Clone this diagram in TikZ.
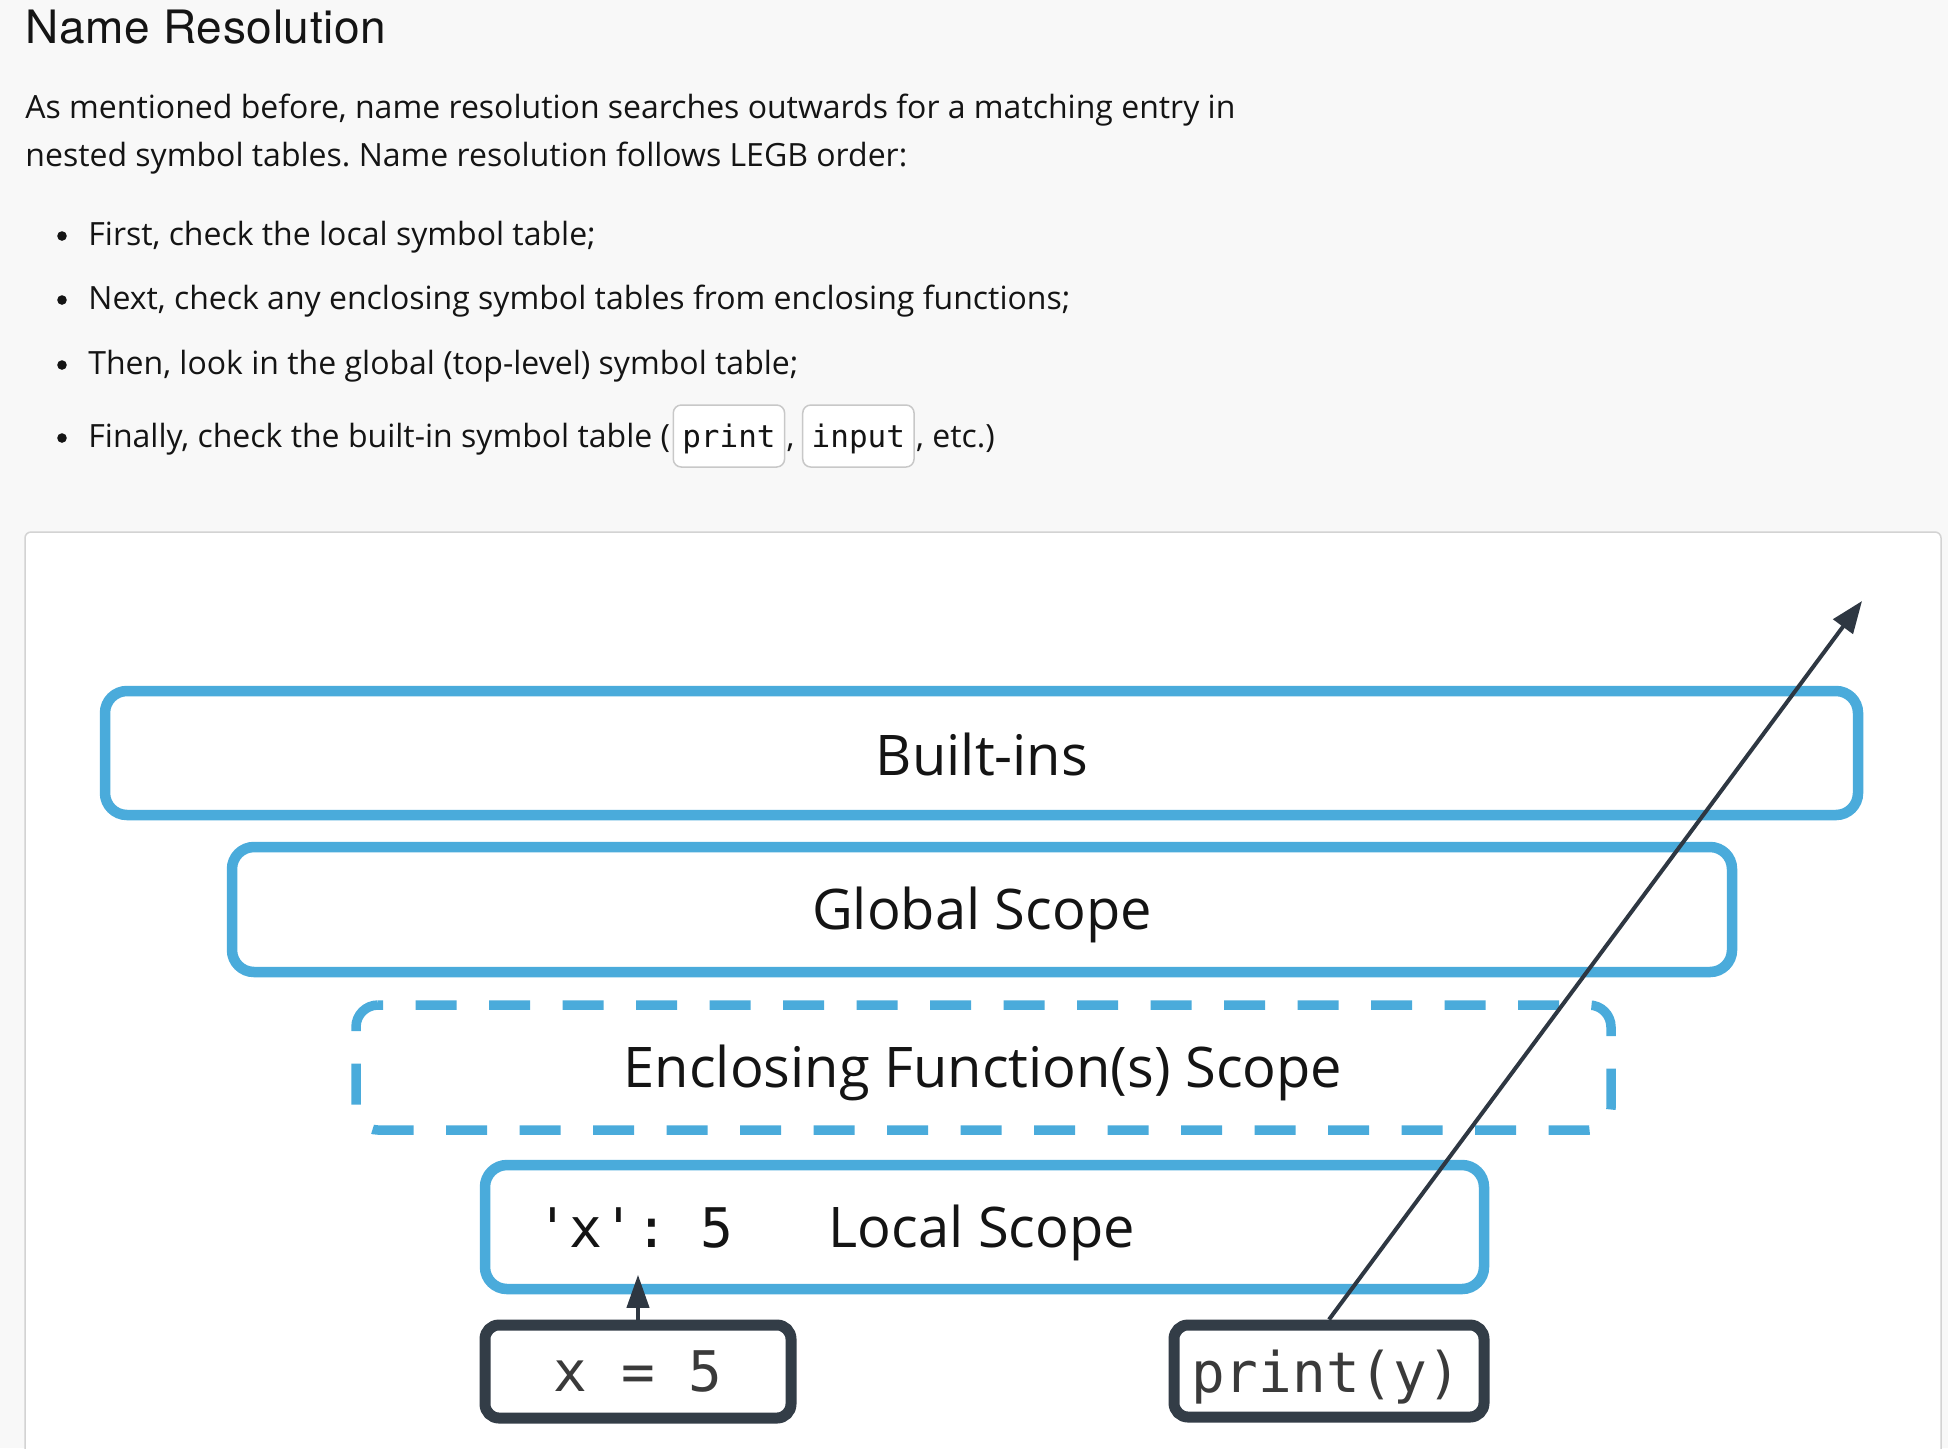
\documentclass[tikz,border=0pt]{standalone}
\usepackage{fontspec}
\setmainfont{Open Sans}
\newfontfamily\titlefont[LetterSpace=1.5]{TeX Gyre Heros}
\newfontfamily\codefont{DejaVu Sans Mono}
\usetikzlibrary{arrows.meta,calc}
\definecolor{pagebg}{HTML}{F8F8F8}
\definecolor{panelborder}{HTML}{D3D3D3}
\definecolor{scopeblue}{HTML}{4AABDB}
\definecolor{darkbox}{HTML}{333D47}
\definecolor{arrowdark}{HTML}{2E3742}
\definecolor{txt}{HTML}{141414}
\definecolor{graytxt}{HTML}{3A3A3A}
\definecolor{codeborder}{HTML}{C8C8C8}
\frenchspacing
\begin{document}
\begin{tikzpicture}[x=0.5pt,y=-0.5pt,
  scopebox/.style={draw=scopeblue,line width=5.25pt,rounded corners=11pt,inner sep=0pt},
  stmtbox/.style={draw=darkbox,line width=5.5pt,rounded corners=7pt,inner sep=0pt},
  lbl/.style={font=\fontsize{28}{34}\selectfont,text=txt,inner sep=0pt,anchor=base},
  monolbl/.style={font=\codefont\fontsize{28}{34}\selectfont,text=txt,inner sep=0pt},
  bodytext/.style={font=\fontsize{16}{19}\selectfont,text=txt,inner sep=0pt,anchor=base west},
  bulletdot/.style={circle,fill=txt,inner sep=0pt,minimum size=4.8pt},
  inlinecode/.style={draw=codeborder,fill=white,line width=0.75pt,rounded corners=4pt,
    font=\codefont\fontsize{15.5}{18}\selectfont,text=txt,inner xsep=4.5pt,inner ysep=0pt,
    minimum height=31pt,text height=13pt,text depth=2pt,anchor=west},
  arrowline/.style={draw=arrowdark,line width=2pt}
]
\useasboundingbox (0,0) rectangle (1948,1448);
\fill[pagebg] (0,0) rectangle (1948,1448);
\draw[fill=white,draw=panelborder,line width=0.75pt,rounded corners=3pt] (25,532) rectangle (1941,1480);

% header
\node[anchor=base west,inner sep=0pt,text=txt,font=\titlefont\fontsize{23}{28}\selectfont] (title) at (25,43) {Name Resolution};
\node[bodytext] (p1) at (25,118) {As mentioned before, name resolution searches outwards for a matching entry in};
\node[bodytext] (p2) at (25,166) {nested symbol tables. Name resolution follows LEGB order:};

\node[bulletdot] (d1) at (62,236) {};
\node[bulletdot] (d2) at (62,300) {};
\node[bulletdot] (d3) at (62,365) {};
\node[bulletdot] (d4) at (62,438) {};
\node[bodytext] (l1) at (88,245) {First, check the local symbol table;};
\node[bodytext] (l2) at (88,309) {Next, check any enclosing symbol tables from enclosing functions;};
\node[bodytext] (l3) at (88,374) {Then, look in the global (top-level) symbol table;};
\node[bodytext] (l4) at (88,447) {Finally, check the built-in symbol table (};
\node[inlinecode] (c1) at ($(l4.base east)+(2,-11)$) {print};
\node[bodytext] (cm1) at ($(c1.east)+(1,11)$) {,};
\node[inlinecode] (c2) at ($(cm1.base east)+(7,-11)$) {input};
\node[bodytext] (etc) at ($(c2.east)+(1,11)$) {, etc.)};

% scope boxes
\node[scopebox,minimum width=876.5pt,minimum height=62pt] (builtins) at (981.5,753) {};
\node[scopebox,minimum width=750pt,minimum height=62.5pt] (global) at (982,909.5) {};
\node[inner sep=0pt,outer sep=0pt,minimum width=627.5pt,minimum height=62.5pt] (enclosing) at (983.5,1067.5) {};
\draw[draw=scopeblue,line width=4.75pt,rounded corners=11pt,dash pattern=on 20.5pt off 16.25pt,dash phase=18pt]
  ([xshift=11pt]enclosing.north west) -- (enclosing.north east) -- (enclosing.south east)
  -- (enclosing.south west) -- (enclosing.north west) -- ([xshift=11pt]enclosing.north west);
\node[scopebox,minimum width=499.5pt,minimum height=62pt] (local) at (984.5,1227) {};

\node[lbl] (lblB) at (982,775) {Built-ins};
\node[lbl] (lblG) at (982,929.5) {Global Scope};
\node[lbl] (lblE) at (983,1087.5) {Enclosing Function(s) Scope};
\node[lbl] (lblL) at (982,1247) {Local Scope};
\node[monolbl,anchor=base west,font=\codefont\fontsize{27.3}{32}\selectfont] (lblX) at (536,1247) {\textquotesingle x\textquotesingle: 5};

% statement boxes
\node[stmtbox,minimum width=153pt,minimum height=46.5pt] (xbox) at (638,1371.5) {};
\node[stmtbox,minimum width=155pt,minimum height=46pt] (printbox) at (1329,1371) {};
\node[monolbl,anchor=base,text=graytxt] (xtxt) at (638,1391) {x = 5};
\node[monolbl,anchor=base,text=graytxt] (ptxt) at (1326,1392) {print(y)};

% arrows
\coordinate (outtip) at (1862,601);
\draw[arrowline,-{Triangle[length=16pt,width=12pt]}] (printbox.north) -- (outtip);
\draw[arrowline,-{Triangle[length=16.5pt,width=11pt]},shorten >=-9.75pt] (xbox.north) -- (xbox.north |- local.south);
\end{tikzpicture}
\end{document}
